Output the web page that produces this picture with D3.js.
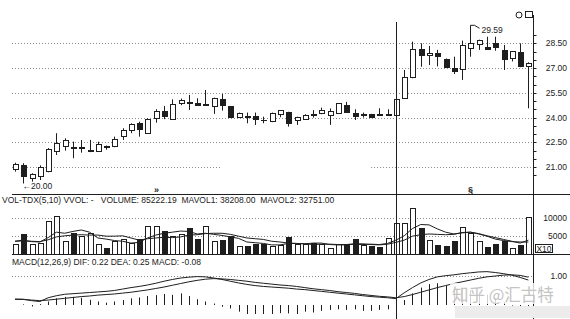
<!DOCTYPE html>
<html>
<head>
<meta charset="utf-8">
<script src="https://cdn.jsdelivr.net/npm/d3@7"></script>
<style>
  body { margin: 0; background: #fff; }
  svg { display: block; font-family: "Liberation Sans", Arial, sans-serif; }
  .grid { stroke: #8c8c8c; stroke-width: 1; stroke-dasharray: 1,2; fill: none; }
  .ink { stroke: #1e1e1e; }
  .lbl { fill: #222; font-size: 8.5px; }
</style>
</head>
<body>
<svg id="chart"></svg>
<script>
// daily candles
const opens  = [20.86,21.12,20.29,20.41,20.72,21.93,22.23,22.16,22.12,21.93,21.97,22.23,22.23,22.84,23.24,23.65,23.05,23.95,24.35,23.90,24.82,24.92,24.82,24.74,24.66,25.10,24.66,24.02,24.07,24.05,23.83,23.75,24.20,24.32,23.81,23.91,24.17,24.22,24.15,24.26,24.70,24.26,24.13,24.20,24.17,24.13,24.10,25.17,26.42,28.14,27.73,27.90,27.53,26.98,26.92,28.20,28.44,28.24,28.50,28.09,27.59,27.93,27.12];
const highs  = [21.26,21.23,20.62,21.10,22.15,23.05,22.74,22.54,22.64,22.64,22.54,22.30,22.84,23.35,23.65,23.75,23.95,24.50,24.70,25.10,25.15,25.37,25.17,25.67,25.20,25.43,24.70,24.30,24.30,24.30,24.05,24.30,24.45,24.35,24.05,24.20,24.45,24.60,24.55,24.85,24.95,24.50,24.30,24.22,24.56,24.50,25.30,26.88,28.60,28.50,28.34,28.10,27.58,27.69,28.66,29.59,28.72,28.90,28.90,28.40,28.02,28.50,27.35];
const lows   = [20.72,20.00,20.11,20.21,20.68,21.73,21.99,21.53,21.87,21.90,21.95,22.05,22.20,22.64,23.05,22.84,23.00,23.69,23.90,23.88,24.75,24.46,24.72,24.72,24.22,24.42,23.98,23.98,23.65,23.55,23.65,23.72,24.02,23.45,23.55,23.85,24.00,24.20,23.55,24.24,24.28,23.85,24.00,24.00,24.10,24.10,24.05,25.15,26.38,27.08,27.18,27.10,27.00,26.64,26.28,27.69,28.10,28.10,28.05,26.88,27.40,27.05,24.56];
const closes = [21.17,20.41,20.55,20.98,22.09,22.44,22.58,22.12,22.16,22.03,22.34,22.17,22.68,23.24,23.59,23.29,23.90,24.35,24.09,24.76,25.02,24.88,24.74,24.80,25.17,24.70,24.02,24.26,24.03,23.85,23.79,24.26,24.40,23.65,24.02,24.15,24.13,24.42,24.35,24.82,24.30,24.05,24.17,24.02,24.13,24.17,25.10,26.45,28.14,27.79,27.90,27.69,27.05,26.78,28.34,28.50,28.66,28.14,28.24,27.53,27.99,27.08,27.29];

// volume panel (axis units, x10)
const volumes = [2500,5300,2500,3000,9000,10400,3400,5500,4800,5700,2700,1600,3400,3900,3000,3900,7600,7600,6200,4800,5300,7000,3900,7600,3400,3600,4800,2000,2000,2700,2700,2000,2300,4500,2500,2500,3000,2700,1600,2500,2500,4100,2300,2000,1750,4150,8500,8500,12500,7100,3600,2300,2000,3500,7400,5500,3400,1750,2500,3400,1600,2300,10100];
const mavol1 = [3500,3800,3400,3300,4500,6000,5700,6200,6600,6000,4400,4100,3700,3500,3000,3200,4400,5200,5700,6000,6300,6200,5500,5700,5400,5100,4700,4300,3300,3100,2900,2500,2500,2900,2900,2800,3000,3000,2600,2500,2500,2700,2600,2700,2600,2900,3800,5000,7000,8100,8000,6900,6000,5500,5800,6000,5600,5000,4500,4000,3500,3000,3820];
const mavol2 = [3500,3600,3500,3400,3900,4700,5000,5200,5300,5200,5200,4900,4900,5000,4400,3800,4200,4400,4600,4500,4700,5200,5300,5600,5700,5700,5400,4900,4400,4200,4000,3500,3300,3000,2900,2800,2600,2700,2700,2600,2600,2800,2800,2600,2500,2700,3200,3800,4900,5300,5500,5400,5300,5400,5900,6000,5500,4900,4100,3700,3400,3300,3280];

// MACD panel
const dif  = [0.20,0.20,0.15,0.12,0.25,0.32,0.37,0.39,0.41,0.43,0.45,0.47,0.50,0.55,0.60,0.64,0.69,0.75,0.82,0.88,0.93,0.96,0.98,0.97,0.93,0.88,0.82,0.76,0.71,0.67,0.64,0.62,0.60,0.58,0.55,0.53,0.50,0.47,0.44,0.41,0.38,0.35,0.32,0.29,0.27,0.25,0.22,0.42,0.60,0.76,0.88,0.97,1.01,1.04,1.08,1.11,1.14,1.15,1.12,1.08,1.03,0.95,0.86];
const dea  = [0.20,0.19,0.17,0.15,0.17,0.20,0.23,0.26,0.29,0.31,0.34,0.36,0.38,0.41,0.44,0.48,0.52,0.57,0.62,0.68,0.74,0.80,0.85,0.89,0.91,0.90,0.88,0.85,0.82,0.78,0.75,0.72,0.69,0.67,0.64,0.60,0.56,0.53,0.50,0.46,0.43,0.40,0.36,0.33,0.30,0.28,0.25,0.29,0.36,0.44,0.52,0.60,0.67,0.74,0.80,0.86,0.92,0.97,1.00,1.03,1.04,1.02,0.96];
const macd = [0.00,0.02,-0.05,0.03,0.12,0.23,0.28,0.28,0.25,0.18,0.12,0.08,0.12,0.17,0.23,0.26,0.31,0.34,0.38,0.35,0.40,0.31,0.20,0.12,0.05,-0.06,-0.12,-0.23,-0.31,-0.31,-0.31,-0.31,-0.28,-0.29,-0.31,-0.23,-0.26,-0.20,-0.17,-0.15,-0.17,-0.15,-0.20,-0.20,-0.17,-0.15,-0.08,0.17,0.40,0.60,0.72,0.75,0.68,0.60,0.56,0.50,0.44,0.36,0.24,0.10,-0.02,-0.14,-0.20];

const priceTicks = [21, 22.5, 24, 25.5, 27, 28.5];
const volTicks = [5000, 10000];
const macdTicks = [1];

const cursorIdx = 46;
const highIdx = 55;
const lowIdx = 1;
const markerIdx = [17, 55];
const markerGlyph = ["»", "§"];

const volTitle = "VOL-TDX(5,10) VVOL: -   VOLUME: 85222.19  MAVOL1: 38208.00  MAVOL2: 32751.00";
const macdTitle = "MACD(12,26,9) DIF: 0.22 DEA: 0.25 MACD: -0.08";
const watermark = "知乎 @汇古特";

class KLineChart {
    constructor(svg, width = 570, height = 319) {
        this.svg = svg;
        this.width = width;
        this.height = height;
        this.n = opens.length;
    }

    initialize() {
        this.svg = d3.select(this.svg)
            .attr("width", this.width)
            .attr("height", this.height);

        this.left = 12;
        this.right = 533.5;

        this.x = d3.scalePoint().domain(d3.range(this.n)).range([15, 528.4]);
        this.yPrice = d3.scaleLinear().domain([21, 28.5]).range([167, 43.3]);
        this.yVol = d3.scaleLinear().domain([0, 10000]).range([254, 217.6]);
        this.yMacd = d3.scaleLinear().domain([0, 1]).range([305, 276]);

        this.gridG = this.svg.append("g");
        this.priceG = this.svg.append("g");
        this.volG = this.svg.append("g");
        this.macdG = this.svg.append("g");
        this.frameG = this.svg.append("g");
    }

    xc(i) {
        return Math.round(this.x(i)) + 0.5;
    }

    update() {
        const ink = "#1e1e1e";
        const idx = d3.range(this.n);
        const fmt = d3.format(".2f");

        // grid lines
        priceTicks.forEach(t => {
            const y = Math.round(this.yPrice(t)) + 0.5;
            const segs = t === 21 ? [[this.left, this.x(25)], [this.x(43), this.right]] : [[this.left, this.right]];
            segs.forEach(s => this.gridG.append("line").attr("class", "grid")
                .attr("x1", s[0]).attr("x2", s[1]).attr("y1", y).attr("y2", y));
        });
        volTicks.forEach(t => {
            const y = Math.round(this.yVol(t)) + 0.5;
            this.gridG.append("line").attr("class", "grid")
                .attr("x1", this.left).attr("x2", this.right).attr("y1", y).attr("y2", y);
        });
        macdTicks.forEach(t => {
            const y = Math.round(this.yMacd(t)) + 0.5;
            this.gridG.append("line").attr("class", "grid")
                .attr("x1", this.left).attr("x2", this.right).attr("y1", y).attr("y2", y);
        });

        // candles
        const candles = this.priceG.selectAll("g")
            .data(idx)
            .join("g");

        candles.append("line")
            .attr("stroke", ink)
            .attr("x1", i => this.xc(i)).attr("x2", i => this.xc(i))
            .attr("y1", i => this.yPrice(highs[i]))
            .attr("y2", i => this.yPrice(lows[i]));

        candles.append("rect")
            .attr("shape-rendering", "crispEdges")
            .attr("stroke", ink)
            .attr("fill", i => closes[i] >= opens[i] ? "#fff" : ink)
            .attr("x", i => this.xc(i) - 2.5)
            .attr("width", 5)
            .attr("y", i => this.yPrice(Math.max(opens[i], closes[i])))
            .attr("height", i => Math.max(0.5, Math.abs(this.yPrice(opens[i]) - this.yPrice(closes[i]))));

        // high / low markers
        const hx = this.xc(highIdx), hy = this.yPrice(highs[highIdx]);
        this.priceG.append("path")
            .attr("fill", "none").attr("stroke", ink)
            .attr("d", `M${hx},${hy}H${hx + 4}L${hx + 9},${hy + 3}`);
        this.priceG.append("text").attr("class", "lbl")
            .attr("x", hx + 11).attr("y", hy + 7.5)
            .text(fmt(highs[highIdx]));

        const lx = this.xc(lowIdx), ly = this.yPrice(lows[lowIdx]);
        this.priceG.append("text").attr("class", "lbl")
            .attr("x", lx - 1).attr("y", ly + 5.5)
            .text("←" + fmt(lows[lowIdx]));

        markerIdx.forEach((m, k) => {
            this.priceG.append("text").attr("class", "lbl")
                .attr("x", this.xc(m)).attr("y", 193)
                .attr("text-anchor", "middle")
                .style("font-weight", "bold")
                .style("font-size", "9px")
                .text(markerGlyph[k]);
        });

        // volume bars
        this.volG.selectAll("rect")
            .data(idx)
            .join("rect")
            .attr("shape-rendering", "crispEdges")
            .attr("stroke", ink)
            .attr("fill", i => closes[i] >= opens[i] ? "#fff" : ink)
            .attr("x", i => this.xc(i) - 2.5)
            .attr("width", 5)
            .attr("y", i => this.yVol(volumes[i]))
            .attr("height", i => this.yVol(0) - this.yVol(volumes[i]));

        const volLine = d3.line().x(i => this.x(i));
        [mavol1, mavol2].forEach(s => {
            this.volG.append("path")
                .attr("fill", "none").attr("stroke", ink).attr("stroke-width", 1)
                .attr("d", volLine.y(i => this.yVol(s[i]))(idx));
        });

        // macd histogram + lines
        this.macdG.selectAll("line")
            .data(idx)
            .join("line")
            .attr("stroke", ink)
            .attr("x1", i => this.xc(i)).attr("x2", i => this.xc(i))
            .attr("y1", this.yMacd(0))
            .attr("y2", i => this.yMacd(macd[i]));

        const macdLine = d3.line().x(i => this.x(i));
        [dif, dea].forEach(s => {
            this.macdG.append("path")
                .attr("fill", "none").attr("stroke", ink).attr("stroke-width", 1)
                .attr("d", macdLine.y(i => this.yMacd(s[i]))(idx));
        });

        // frame: separators, right axis, cursor
        const f = this.frameG;
        const sepTop = 194.5, sepBottom = Math.round(this.yVol(0)) + 0.5;
        [sepTop, sepBottom].forEach(y => f.append("line").attr("class", "ink")
            .attr("x1", this.left).attr("x2", this.width).attr("y1", y).attr("y2", y));
        f.append("line").attr("class", "ink")
            .attr("x1", this.right).attr("x2", this.right).attr("y1", 15).attr("y2", this.height);
        f.append("line").attr("class", "ink")
            .attr("x1", this.xc(cursorIdx)).attr("x2", this.xc(cursorIdx)).attr("y1", 22).attr("y2", this.height);

        d3.range(20.5, 29.01, 0.5).forEach(v => {
            const y = Math.round(this.yPrice(v)) + 0.5;
            f.append("line").attr("class", "ink")
                .attr("x1", this.right).attr("x2", this.right + 3).attr("y1", y).attr("y2", y);
        });

        priceTicks.forEach(t => f.append("text").attr("class", "lbl")
            .attr("x", 567).attr("y", this.yPrice(t) + 3)
            .attr("text-anchor", "end").text(fmt(t)));
        volTicks.forEach(t => f.append("text").attr("class", "lbl")
            .attr("x", 567).attr("y", this.yVol(t) + 3)
            .attr("text-anchor", "end").text(t));
        macdTicks.forEach(t => f.append("text").attr("class", "lbl")
            .attr("x", 567).attr("y", this.yMacd(t) + 3)
            .attr("text-anchor", "end").text(fmt(t)));

        // x10 box
        f.append("rect").attr("class", "ink").attr("fill", "#fff")
            .attr("x", 535.5).attr("y", 244.5).attr("width", 17).attr("height", 8);
        f.append("text").attr("class", "lbl")
            .attr("x", 544).attr("y", 251.5).attr("text-anchor", "middle")
            .text("X10");

        // titles
        f.append("text").attr("class", "lbl")
            .attr("x", 2).attr("y", 203).attr("xml:space", "preserve")
            .style("white-space", "pre").text(volTitle);
        f.append("text").attr("class", "lbl")
            .attr("x", 12).attr("y", 265).text(macdTitle);

        // window icons top right
        f.append("circle").attr("class", "ink").attr("fill", "#fff")
            .attr("cx", 519).attr("cy", 15).attr("r", 3);
        f.append("rect").attr("class", "ink").attr("fill", "#fff")
            .attr("x", 525.5).attr("y", 11.5).attr("width", 7).attr("height", 6);

        // watermark
        f.append("rect").attr("fill", "#fff").attr("opacity", 0.8)
            .attr("x", 450).attr("y", 283).attr("width", 108).attr("height", 21);
        f.append("rect").attr("fill", "#ececec")
            .attr("x", 455).attr("y", 306).attr("width", 115).attr("height", 12);
        f.append("text")
            .attr("x", 452).attr("y", 301)
            .style("font-family", "'Noto Sans CJK SC', sans-serif")
            .style("font-size", "16.5px")
            .attr("fill", "#c4c4c4")
            .text(watermark);
    }
}

const chart = new KLineChart(document.getElementById("chart"));
chart.initialize();
chart.update();
</script>
</body>
</html>
